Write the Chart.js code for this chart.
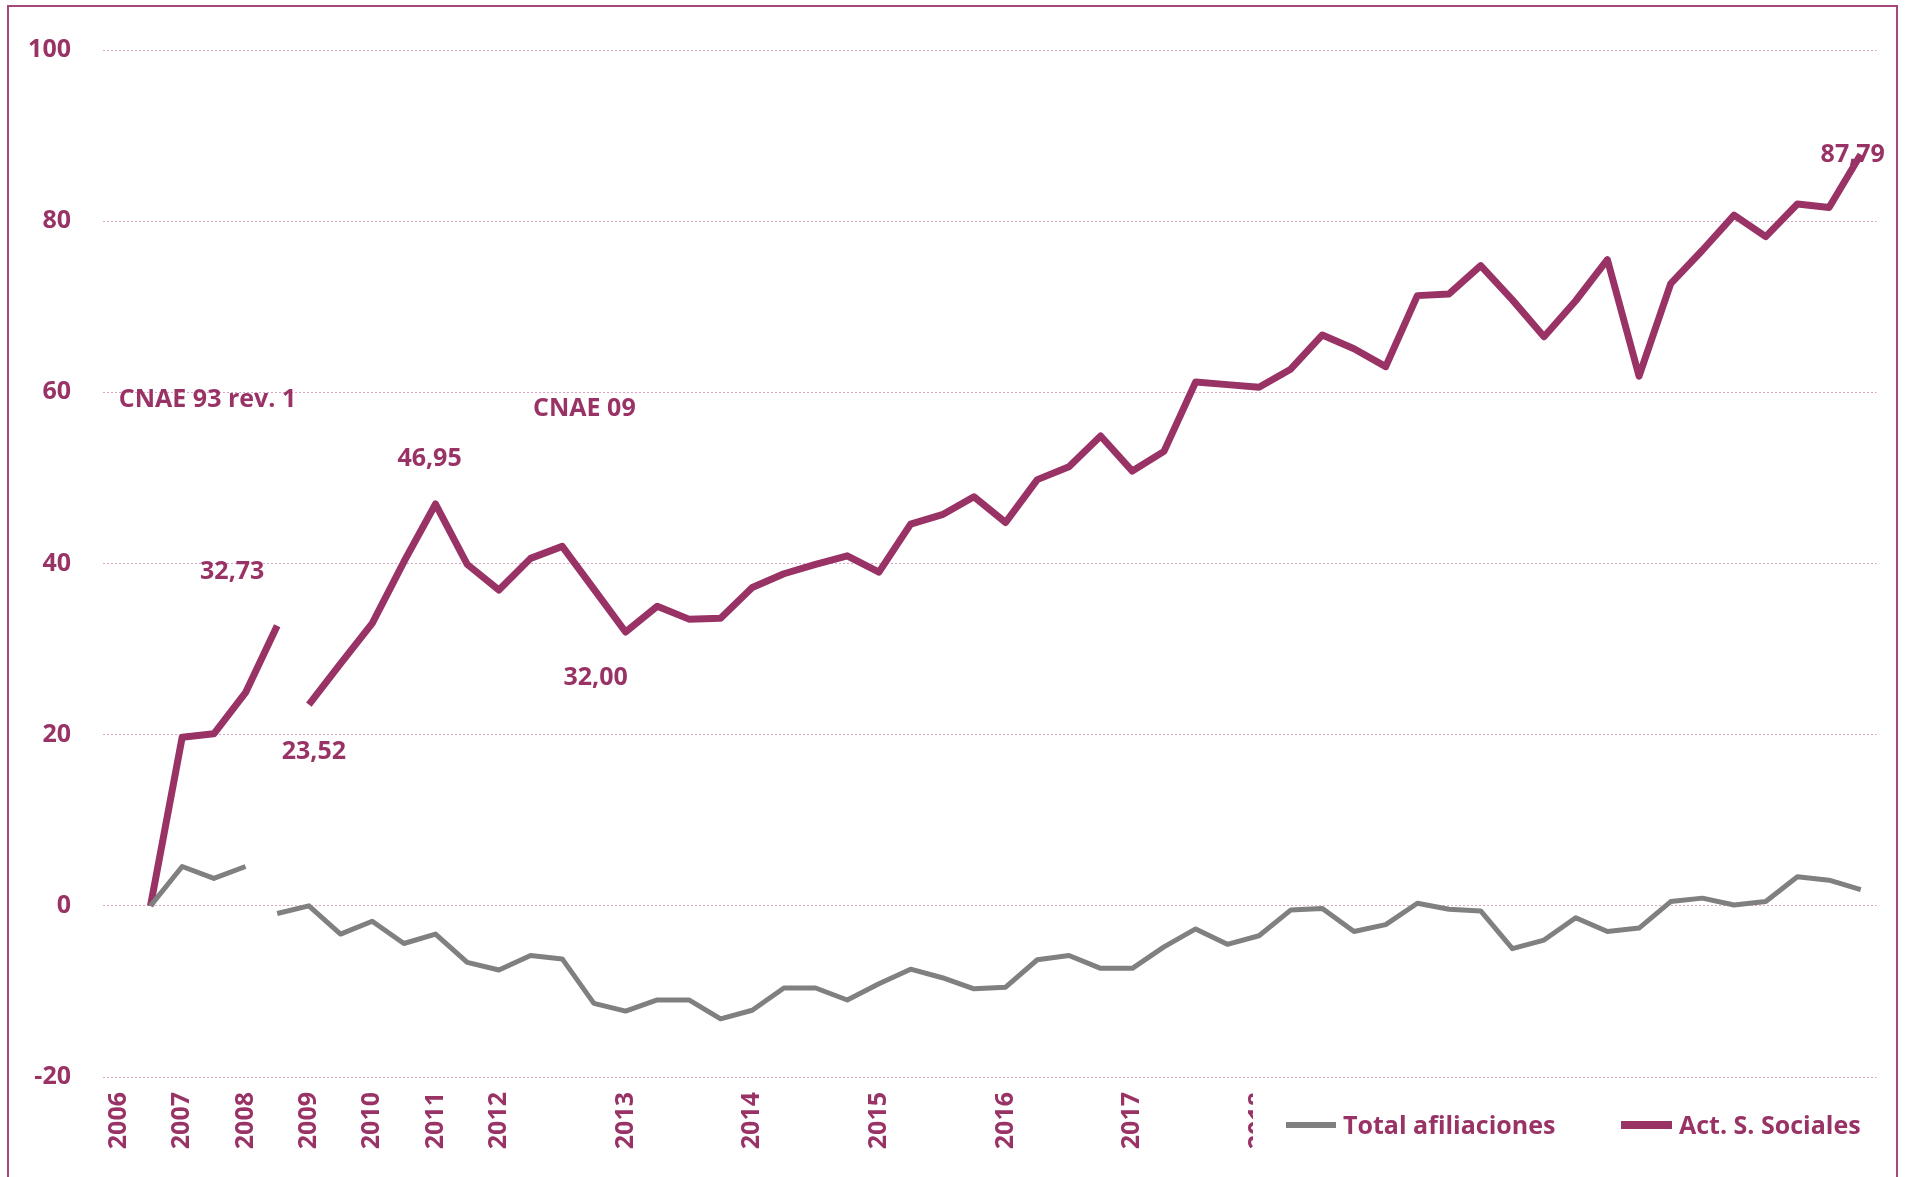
<!DOCTYPE html>
<html>
<head>
<meta charset="utf-8">
<script src="https://cdn.jsdelivr.net/npm/chart.js@4/dist/chart.umd.min.js"></script>
<style>
  html, body { margin: 0; padding: 0; background: #fff; overflow: hidden; }
  #wrap { position: relative; width: 1906px; height: 1177px; }
  #frame {
    position: absolute; left: 7px; top: 5px; width: 1891px; height: 1300px;
    border: 2px solid #a4477a; border-bottom: none; box-sizing: border-box;
    pointer-events: none;
  }
  canvas { position: absolute; left: 0; top: 0; }
</style>
</head>
<body>
<div id="wrap">
  <canvas id="chart" width="1906" height="1177"></canvas>
  <div id="frame"></div>
</div>
<script>
/* =====================
   データ
===================== */
const labels = [
  '2006', '', '2007', '', '2008', '', '2009', '', '2010', '', '2011', '', '2012', '', '', '',
  '2013', '', '', '', '2014', '', '', '', '2015', '', '', '', '2016', '', '', '',
  '2017', '', '', '', '2018', '', '', '', '', '', '', '', '', '', '', '',
  '', '', '', '', '', '', '', ''
];

// Act. S. Sociales (CNAE 93 rev. 1 hasta idx 5, CNAE 09 desde idx 6)
const sociales = [
  null, 0, 19.7, 20.1, 24.9, 32.73, 23.52, 28.3, 33.0, 40.2, 46.95, 39.9, 36.9, 40.6, 42.0, 37.0,
  32.00, 35.0, 33.5, 33.6, 37.2, 38.8, 39.9, 40.9, 39.0, 44.6, 45.7, 47.8, 44.8, 49.8, 51.3, 54.9,
  50.8, 53.1, 61.2, 60.9, 60.6, 62.7, 66.7, 65.1, 63.0, 71.3, 71.5, 74.8, 70.8, 66.5,
  70.7, 75.5, 61.9, 72.7, 76.6, 80.7, 78.2, 82.0, 81.6, 87.79
];

// Total afiliaciones
const afiliaciones = [
  null, 0, 4.6, 3.2, 4.6, -0.9, 0, -3.3, -1.8, -4.4, -3.3, -6.6, -7.5, -5.8, -6.2, -11.4,
  -12.3, -11.0, -11.0, -13.2, -12.2, -9.6, -9.6, -11.0, -9.1, -7.4, -8.4, -9.7, -9.5, -6.3, -5.8, -7.3,
  -7.3, -4.8, -2.7, -4.5, -3.5, -0.5, -0.3, -3.0, -2.2, 0.3, -0.4, -0.6, -5.0, -4.0,
  -1.4, -3.0, -2.6, 0.5, 0.9, 0.1, 0.5, 3.4, 3.0, 1.9
];

const yTicks = [-20, 0, 20, 40, 60, 80, 100];

// cambio de serie: no se une el punto i con el i+1
const socialesBreak = 5;
const afiliacionesBreak = 4;

// etiquetas de datos: índice del punto y desplazamiento en px
const socialesLabels = [
  { i: 5,  dx: -45, dy: -54 },
  { i: 6,  dx: 5,   dy: 47 },
  { i: 10, dx: -6,  dy: -45 },
  { i: 16, dx: -30, dy: 46 },
  { i: 55, dx: -8,  dy: 0 }
];

// textos CNAE (índice de categoría, valor y)
const notes = [
  { text: 'CNAE 93 rev. 1', x: 2.8, y: 59.1 },
  { text: 'CNAE 09', x: 14.7, y: 58.1 }
];

const PURPLE = '#993366';
const GRAY = '#808080';
const FONT = "'Open Sans', 'Noto Sans', sans-serif";

function fmt(v) {
  return v.toFixed(2).replace('.', ',');
}

/* =====================
   プラグイン: ラベル・注記・凡例
===================== */
const extrasPlugin = {
  id: 'extras',
  afterDatasetsDraw(chart) {
    const ctx = chart.ctx;
    const xs = chart.scales.x, ys = chart.scales.y;
    ctx.save();
    ctx.fillStyle = PURPLE;
    ctx.font = 'bold 25px ' + FONT;
    ctx.textAlign = 'center';
    ctx.textBaseline = 'middle';
    socialesLabels.forEach(l => {
      const v = sociales[l.i];
      ctx.fillText(fmt(v), xs.getPixelForValue(l.i) + l.dx, ys.getPixelForValue(v) + l.dy);
    });
    notes.forEach(n => {
      ctx.fillText(n.text, xs.getPixelForValue(n.x), ys.getPixelForValue(n.y));
    });
    ctx.restore();
  },
  afterDraw(chart) {
    const ctx = chart.ctx;
    ctx.save();
    // legend box (covers later year labels)
    ctx.fillStyle = '#fff';
    ctx.fillRect(1253, 1082, 640, 95);
    const cy = 1125;
    ctx.lineCap = 'butt';
    ctx.strokeStyle = GRAY;
    ctx.lineWidth = 6;
    ctx.beginPath(); ctx.moveTo(1286, cy); ctx.lineTo(1336, cy); ctx.stroke();
    ctx.strokeStyle = PURPLE;
    ctx.lineWidth = 8;
    ctx.beginPath(); ctx.moveTo(1621, cy); ctx.lineTo(1672, cy); ctx.stroke();
    ctx.fillStyle = PURPLE;
    ctx.font = 'bold 25px ' + FONT;
    ctx.textAlign = 'left';
    ctx.textBaseline = 'middle';
    ctx.fillText('Total afiliaciones', 1343, cy + 2);
    ctx.fillText('Act. S. Sociales', 1679, cy + 2);
    ctx.restore();
  }
};

function skipSegment(breakIdx, color) {
  return ctx => ctx.p0DataIndex === breakIdx ? 'rgba(0,0,0,0)' : color;
}

new Chart(document.getElementById('chart'), {
  type: 'line',
  data: {
    labels,
    datasets: [
      {
        label: 'Total afiliaciones',
        data: afiliaciones,
        borderColor: GRAY,
        borderWidth: 5,
        pointRadius: 0,
        tension: 0,
        borderJoinStyle: 'round',
        spanGaps: false,
        segment: { borderColor: skipSegment(afiliacionesBreak, GRAY) }
      },
      {
        label: 'Act. S. Sociales',
        data: sociales,
        borderColor: PURPLE,
        borderWidth: 7,
        pointRadius: 0,
        tension: 0,
        borderJoinStyle: 'round',
        spanGaps: false,
        segment: { borderColor: skipSegment(socialesBreak, PURPLE) }
      }
    ]
  },
  plugins: [extrasPlugin],
  options: {
    responsive: false,
    animation: false,
    layout: { padding: { top: 50, right: 28, bottom: 0, left: 0 } },
    plugins: { legend: { display: false }, tooltip: { enabled: false } },
    scales: {
      x: {
        offset: true,
        grid: { display: false, drawTicks: false },
        border: { display: false },
        ticks: {
          autoSkip: false,
          minRotation: 90,
          maxRotation: 90,
          padding: 15,
          color: PURPLE,
          font: { family: FONT, size: 25, weight: 'bold' }
        },
        afterFit(scale) { scale.height = 100; }
      },
      y: {
        min: -20,
        max: 100,
        afterBuildTicks(scale) { scale.ticks = yTicks.map(v => ({ value: v })); },
        grid: {
          color: '#d9a3c2',
          lineWidth: 1,
          drawTicks: false
        },
        border: { display: false, dash: [2, 2] },
        ticks: {
          padding: 32,
          color: PURPLE,
          font: { family: FONT, size: 25, weight: 'bold' }
        },
        afterFit(scale) { scale.width = 103; }
      }
    }
  }
});
</script>
</body>
</html>
